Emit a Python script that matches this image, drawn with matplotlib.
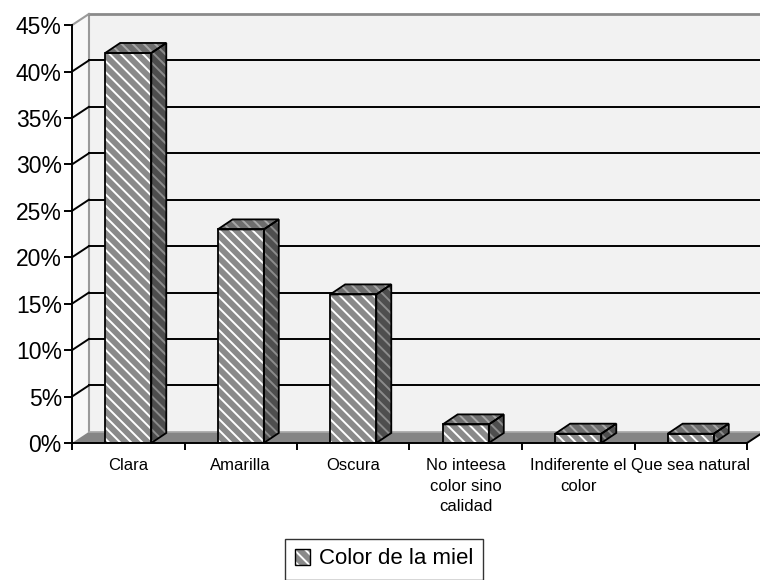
import matplotlib
matplotlib.use("Agg")
import matplotlib.pyplot as plt
from matplotlib.patches import Polygon, Rectangle
from matplotlib.ticker import FixedLocator, NullFormatter

plt.rcParams['font.family'] = ['Liberation Sans', 'DejaVu Sans']
plt.rcParams['hatch.linewidth'] = 1.4

# Data
categories = ["Clara", "Amarilla", "Oscura",
              "No inteesa\ncolor sino\ncalidad",
              "Indiferente el\ncolor", "Que sea natural"]
values = [42, 23, 16, 2, 1, 1]
ytick_values = [0, 5, 10, 15, 20, 25, 30, 35, 40, 45]
ytick_labels = ["0%", "5%", "10%", "15%", "20%", "25%", "30%", "35%", "40%", "45%"]
series_name = "Color de la miel"

# 3-D look: depth offsets in data units
DX, DY = 0.15, 1.2        # wall / floor depth
BDX, BDY = 0.133, 1.08    # column depth
BAR_W = 0.41
YMAX = 45
HATCH = '\\\\\\'

fig = plt.figure(figsize=(7.6, 5.8), dpi=100)
W, H = 760, 580
left_px, right_px, top_px, bottom_px = 72, 760, 14, 443
ax = fig.add_axes([left_px / W, (H - bottom_px) / H,
                   (right_px - left_px) / W, (bottom_px - top_px) / H])
ax.patch.set_visible(False)
n = len(categories)
xmin = -0.5
xmax = -0.5 + (right_px - left_px) / 112.5
ax.set_xlim(xmin, xmax)
ax.set_ylim(0, YMAX + DY)

# back wall
ax.add_patch(Polygon([(xmin + DX, DY), (xmin + DX, YMAX + DY),
                      (xmax + 1, YMAX + DY), (xmax + 1, DY)],
                     closed=True, facecolor='#f2f2f2', edgecolor='none', zorder=1))
# left side wall
ax.add_patch(Polygon([(xmin, 0), (xmin, YMAX), (xmin + DX, YMAX + DY), (xmin + DX, DY)],
                     closed=True, facecolor='#f8f8f8', edgecolor='none', zorder=1))
# wall outlines
ax.plot([xmin + DX, xmin + DX], [DY, YMAX + DY], color='#9a9a9a', lw=1.5, zorder=2, clip_on=False)
ax.plot([xmin + DX, xmax + 1], [YMAX + DY, YMAX + DY], color='#8a8a8a', lw=2.0, zorder=2, clip_on=False)
ax.plot([xmin, xmin + DX], [YMAX, YMAX + DY], color='#9a9a9a', lw=1.5, zorder=2, clip_on=False)

# gridlines on the walls
for v in ytick_values[1:-1]:
    ax.plot([xmin + DX, xmax + 1], [v + DY, v + DY], color='black', lw=1.4, zorder=2, clip_on=True)
    ax.plot([xmin, xmin + DX], [v, v + DY], color='black', lw=1.4, zorder=2)

# floor
ax.add_patch(Polygon([(xmin, 0), (n - 0.5, 0), (n - 0.5 + DX, DY), (xmin + DX, DY)],
                     closed=True, facecolor='#858585', edgecolor='none', zorder=3))
ax.plot([xmin + DX, n - 0.5 + DX], [DY, DY], color='#a8a8a8', lw=1.2, zorder=3)
ax.plot([n - 0.5, n - 0.5 + DX], [0, DY], color='black', lw=1.4, zorder=3, clip_on=False)


def face(points, base, stripe, z):
    ax.add_patch(Polygon(points, closed=True, facecolor=base, edgecolor=stripe,
                         hatch=HATCH, lw=0, zorder=z))
    ax.add_patch(Polygon(points, closed=True, facecolor='none', edgecolor='black',
                         lw=1.3, zorder=z + 0.1, joinstyle='miter'))


# columns
for i, v in enumerate(values):
    x0, x1 = i - BAR_W / 2, i + BAR_W / 2
    z = 5 + i
    face([(x0, 0), (x1, 0), (x1, v), (x0, v)], '#8a8a8a', 'white', z)
    face([(x1, 0), (x1, v), (x1 + BDX, v + BDY), (x1 + BDX, BDY)], '#4e4e4e', '#8c8c8c', z)
    face([(x0, v), (x1, v), (x1 + BDX, v + BDY), (x0 + BDX, v + BDY)], '#6e6e6e', '#a8a8a8', z)

# axes lines and ticks
for s in ['top', 'right']:
    ax.spines[s].set_visible(False)
ax.spines['left'].set_bounds(0, YMAX)
ax.spines['bottom'].set_bounds(-0.5, n - 0.5)
for s in ['left', 'bottom']:
    ax.spines[s].set_linewidth(1.4)
    ax.spines[s].set_zorder(20)

ax.set_yticks(ytick_values)
ax.set_yticklabels(ytick_labels, fontsize=16.5)
ax.tick_params(axis='y', direction='out', length=5.8, width=1.4, pad=1.5)

ax.xaxis.set_major_locator(FixedLocator([i - 0.5 for i in range(n + 1)]))
ax.xaxis.set_major_formatter(NullFormatter())
ax.xaxis.set_minor_locator(FixedLocator(list(range(n))))
ax.set_xticklabels(categories, minor=True, fontsize=12, linespacing=1.45)
ax.tick_params(axis='x', which='major', direction='out', length=5, width=1.4)
ax.tick_params(axis='x', which='minor', length=0, pad=11)

# legend
h_fill = Rectangle((0, 0), 1, 1, facecolor='#8a8a8a', edgecolor='white', hatch=HATCH, lw=0)
h_edge = Rectangle((0, 0), 1, 1, facecolor='none', edgecolor='black', lw=1.0)
leg = fig.legend([(h_fill, h_edge)], [series_name], loc='center',
                 bbox_to_anchor=(384 / W, 1 - 559 / H), fontsize=16,
                 frameon=True, fancybox=False, edgecolor='black',
                 handlelength=0.7, handleheight=0.7, handletextpad=0.4,
                 borderpad=0.45, borderaxespad=0)
leg.get_frame().set_linewidth(1.0)

fig.savefig("out.png", dpi=100)
